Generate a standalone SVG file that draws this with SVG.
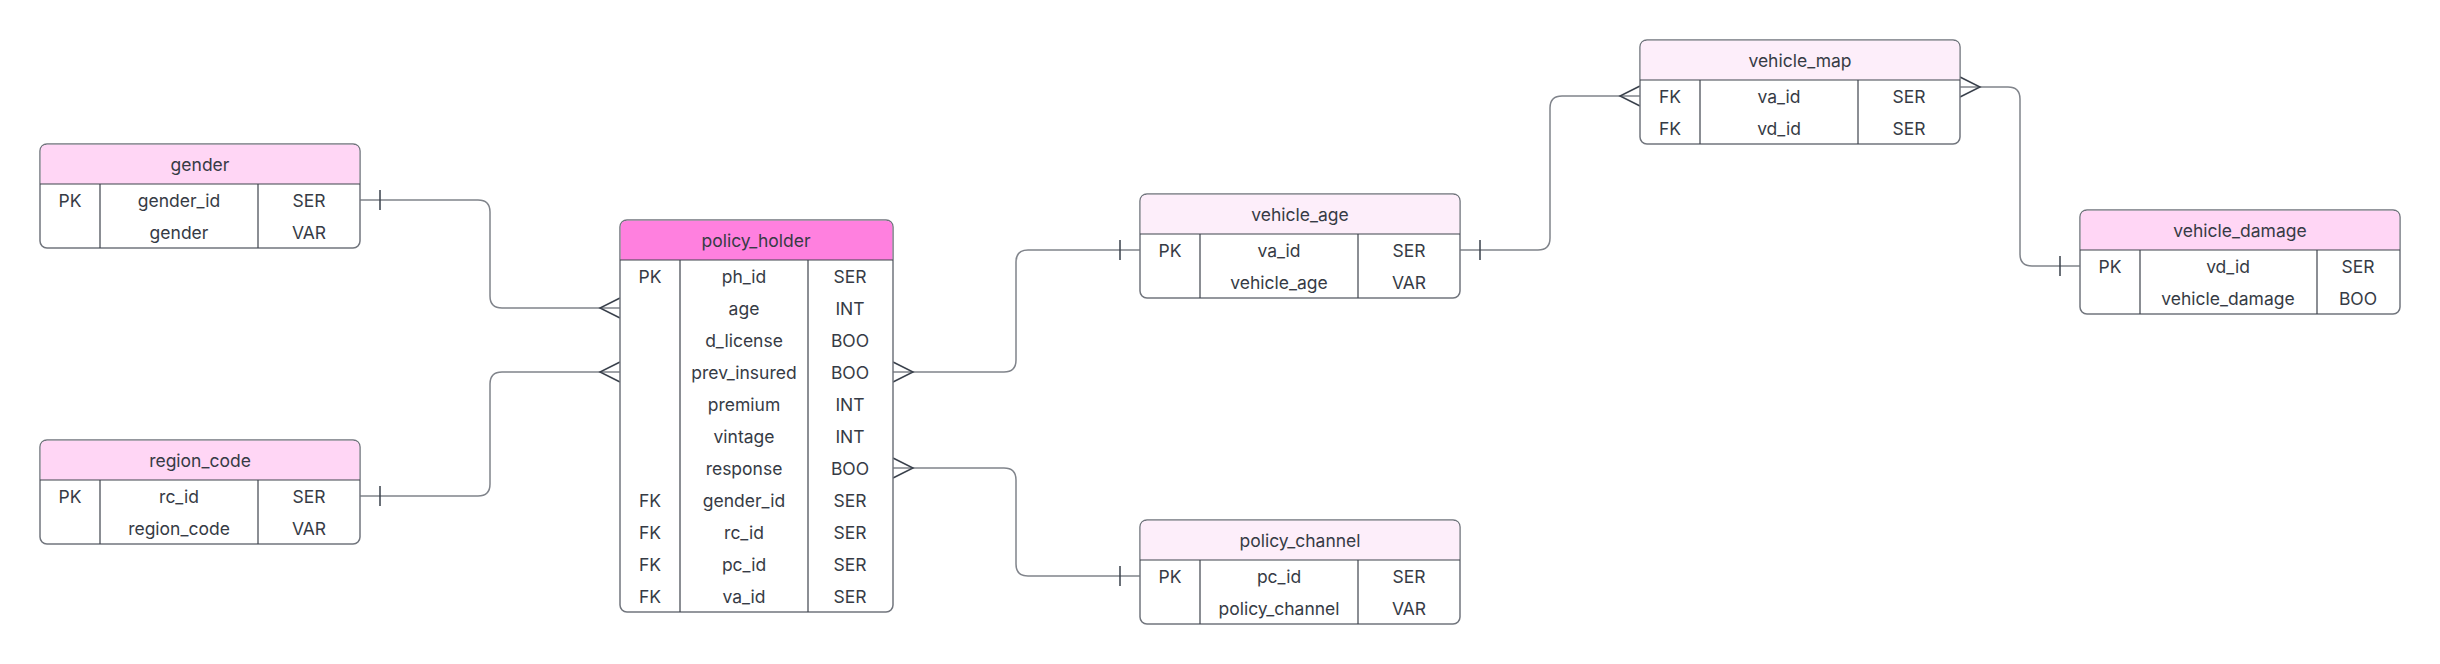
<svg xmlns="http://www.w3.org/2000/svg" width="2440" height="664" viewBox="0 0 2440 664">
<defs>
<style>
.box{fill:#ffffff;stroke:#71757d;stroke-width:1.5}
.div{stroke:#3f444d;stroke-width:1.2;fill:none}
.hA{fill:#ffd6f5}
.hB{fill:#ff80df}
.hC{fill:#fdeefa}
text{font-family:Inter,"Noto Sans","Liberation Sans",sans-serif;font-size:17.5px;fill:#363b45;text-anchor:middle;dominant-baseline:central}
.conn{fill:none;stroke:#80848b;stroke-width:1.5}
.end{fill:none;stroke:#3a414c;stroke-width:1.5}
</style>
</defs>
<rect width="2440" height="664" fill="#ffffff"/>

<g id="connectors">
<path class="conn" d="M360,200 H478 Q490,200 490,212 V296 Q490,308 502,308 H620"/>
<path class="end" d="M380,190 V210 M620,298 L600,308 L620,318"/>
<path class="conn" d="M360,496 H478 Q490,496 490,484 V384 Q490,372 502,372 H620"/>
<path class="end" d="M380,486 V506 M620,362 L600,372 L620,382"/>
<path class="conn" d="M893,372 H1004 Q1016,372 1016,360 V262 Q1016,250 1028,250 H1140"/>
<path class="end" d="M893,362 L913,372 L893,382 M1120,240 V260"/>
<path class="conn" d="M893,468 H1004 Q1016,468 1016,480 V564 Q1016,576 1028,576 H1140"/>
<path class="end" d="M893,458 L913,468 L893,478 M1120,566 V586"/>
<path class="conn" d="M1460,250 H1538 Q1550,250 1550,238 V108 Q1550,96 1562,96 H1640"/>
<path class="end" d="M1480,240 V260 M1640,86 L1620,96 L1640,106"/>
<path class="conn" d="M1960,87 H2008 Q2020,87 2020,99 V254 Q2020,266 2032,266 H2080"/>
<path class="end" d="M1960,77 L1980,87 L1960,97 M2060,256 V276"/>
</g>

<g id="gender">
<rect class="box" x="40" y="144" width="320" height="104" rx="7"/>
<path class="hA" d="M40.75,184 V151 Q40.75,144.75 47,144.75 H353 Q359.25,144.75 359.25,151 V184 Z"/>
<path class="div" d="M40,184 H360 M100,184 V248 M258,184 V248"/>
<text x="200" y="164">gender</text>
<text x="70" y="200">PK</text><text x="179" y="200">gender_id</text><text x="309" y="200">SER</text>
<text x="179" y="232">gender</text><text x="309" y="232">VAR</text>
</g>

<g id="region_code">
<rect class="box" x="40" y="440" width="320" height="104" rx="7"/>
<path class="hA" d="M40.75,480 V447 Q40.75,440.75 47,440.75 H353 Q359.25,440.75 359.25,447 V480 Z"/>
<path class="div" d="M40,480 H360 M100,480 V544 M258,480 V544"/>
<text x="200" y="460">region_code</text>
<text x="70" y="496">PK</text><text x="179" y="496">rc_id</text><text x="309" y="496">SER</text>
<text x="179" y="528">region_code</text><text x="309" y="528">VAR</text>
</g>

<g id="policy_holder">
<rect class="box" x="620" y="220" width="273" height="392" rx="7"/>
<path class="hB" d="M620.75,260 V227 Q620.75,220.75 627,220.75 H886 Q892.25,220.75 892.25,227 V260 Z"/>
<path class="div" d="M620,260 H893 M680,260 V612 M808,260 V612"/>
<text x="756" y="240">policy_holder</text>
<text x="650" y="276">PK</text><text x="744" y="276">ph_id</text><text x="850" y="276">SER</text>
<text x="744" y="308">age</text><text x="850" y="308">INT</text>
<text x="744" y="340">d_license</text><text x="850" y="340">BOO</text>
<text x="744" y="372">prev_insured</text><text x="850" y="372">BOO</text>
<text x="744" y="404">premium</text><text x="850" y="404">INT</text>
<text x="744" y="436">vintage</text><text x="850" y="436">INT</text>
<text x="744" y="468">response</text><text x="850" y="468">BOO</text>
<text x="650" y="500">FK</text><text x="744" y="500">gender_id</text><text x="850" y="500">SER</text>
<text x="650" y="532">FK</text><text x="744" y="532">rc_id</text><text x="850" y="532">SER</text>
<text x="650" y="564">FK</text><text x="744" y="564">pc_id</text><text x="850" y="564">SER</text>
<text x="650" y="596">FK</text><text x="744" y="596">va_id</text><text x="850" y="596">SER</text>
</g>

<g id="vehicle_age">
<rect class="box" x="1140" y="194" width="320" height="104" rx="7"/>
<path class="hC" d="M1140.75,234 V201 Q1140.75,194.75 1147,194.75 H1453 Q1459.25,194.75 1459.25,201 V234 Z"/>
<path class="div" d="M1140,234 H1460 M1200,234 V298 M1358,234 V298"/>
<text x="1300" y="214">vehicle_age</text>
<text x="1170" y="250">PK</text><text x="1279" y="250">va_id</text><text x="1409" y="250">SER</text>
<text x="1279" y="282">vehicle_age</text><text x="1409" y="282">VAR</text>
</g>

<g id="policy_channel">
<rect class="box" x="1140" y="520" width="320" height="104" rx="7"/>
<path class="hC" d="M1140.75,560 V527 Q1140.75,520.75 1147,520.75 H1453 Q1459.25,520.75 1459.25,527 V560 Z"/>
<path class="div" d="M1140,560 H1460 M1200,560 V624 M1358,560 V624"/>
<text x="1300" y="540">policy_channel</text>
<text x="1170" y="576">PK</text><text x="1279" y="576">pc_id</text><text x="1409" y="576">SER</text>
<text x="1279" y="608">policy_channel</text><text x="1409" y="608">VAR</text>
</g>

<g id="vehicle_map">
<rect class="box" x="1640" y="40" width="320" height="104" rx="7"/>
<path class="hC" d="M1640.75,80 V47 Q1640.75,40.75 1647,40.75 H1953 Q1959.25,40.75 1959.25,47 V80 Z"/>
<path class="div" d="M1640,80 H1960 M1700,80 V144 M1858,80 V144"/>
<text x="1800" y="60">vehicle_map</text>
<text x="1670" y="96">FK</text><text x="1779" y="96">va_id</text><text x="1909" y="96">SER</text>
<text x="1670" y="128">FK</text><text x="1779" y="128">vd_id</text><text x="1909" y="128">SER</text>
</g>

<g id="vehicle_damage">
<rect class="box" x="2080" y="210" width="320" height="104" rx="7"/>
<path class="hA" d="M2080.75,250 V217 Q2080.75,210.75 2087,210.75 H2393 Q2399.25,210.75 2399.25,217 V250 Z"/>
<path class="div" d="M2080,250 H2400 M2140,250 V314 M2317,250 V314"/>
<text x="2240" y="230">vehicle_damage</text>
<text x="2110" y="266">PK</text><text x="2228" y="266">vd_id</text><text x="2358" y="266">SER</text>
<text x="2228" y="298">vehicle_damage</text><text x="2358" y="298">BOO</text>
</g>
</svg>
